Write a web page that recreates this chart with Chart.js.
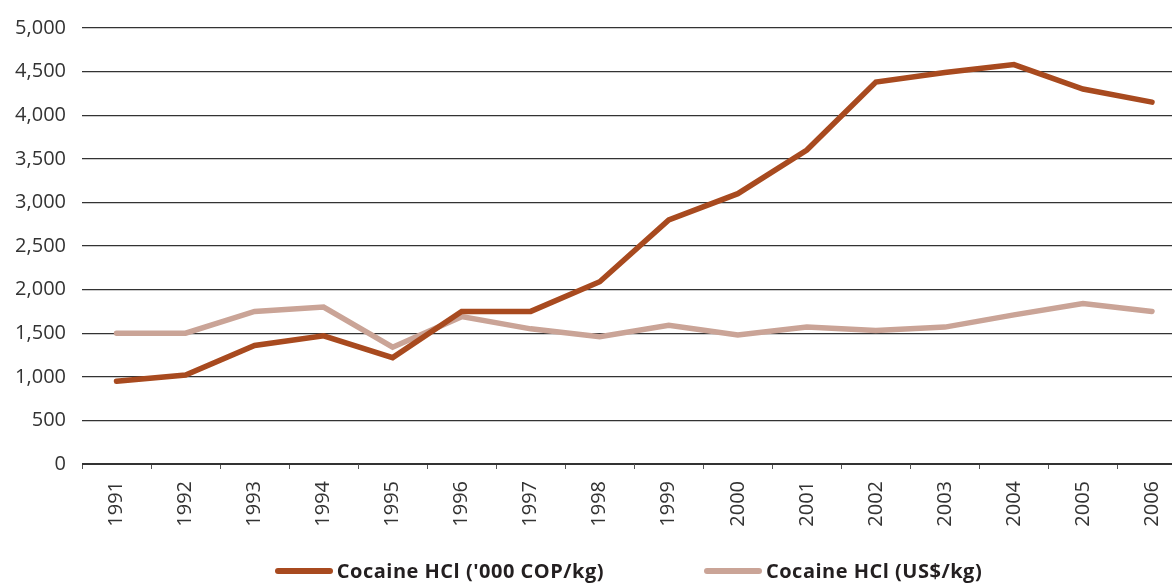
<!DOCTYPE html>
<html>
<head>
<meta charset="utf-8">
<script src="https://cdn.jsdelivr.net/npm/chart.js@4.4.0/dist/chart.umd.min.js"></script>
<style>
	html, body { margin: 0; padding: 0; background: #fff; overflow: hidden; width: 1172px; height: 583px; }
	#wrap { position: absolute; left: 0; top: 0; width: 1188px; height: 583px; }
	#legend {
		position: absolute; left: 0; top: 560px; width: 1257px;
		display: flex; justify-content: center; gap: 100px;
		font-family: 'Open Sans', sans-serif; font-weight: 700; font-size: 20px; letter-spacing: 0.5px; line-height: 22px; color: #231f20;
	}
	.legend-item { display: flex; align-items: center; gap: 4px; white-space: nowrap; }
	.swatch { display: inline-block; width: 58px; height: 6px; border-radius: 3px; }
</style>
</head>
<body>
<div id="wrap"><canvas id="price-chart" width="1188" height="583"></canvas></div>
<div id="legend"></div>
<script>
const years = ['1991', '1992', '1993', '1994', '1995', '1996', '1997', '1998', '1999', '2000', '2001', '2002', '2003', '2004', '2005', '2006'];
const copPrices = [950, 1020, 1360, 1470, 1220, 1750, 1750, 2090, 2800, 3100, 3600, 4380, 4490, 4580, 4300, 4150];
const usdPrices = [1500, 1500, 1750, 1800, 1340, 1690, 1550, 1460, 1590, 1480, 1570, 1530, 1570, 1710, 1840, 1750];
const seriesLabels = ["Cocaine HCl ('000 COP/kg)", 'Cocaine HCl (US$/kg)'];

const colors = {
	cop: '#a84a1f',
	usd: '#caa497',
	grid: '#333333',
	text: '#333333',
};

const tickFont = { family: "'Open Sans', sans-serif", size: 20 };

const priceChart = new Chart(
	document.getElementById('price-chart'),
	{
		type: 'line',
		data: {
			labels: years,
			datasets: [
				{
					label: seriesLabels[0],
					data: copPrices,
					borderColor: colors.cop,
					backgroundColor: colors.cop,
					borderWidth: 5.5,
					borderCapStyle: 'round',
					pointRadius: 0,
					tension: 0,
				},
				{
					label: seriesLabels[1],
					data: usdPrices,
					borderColor: colors.usd,
					backgroundColor: colors.usd,
					borderWidth: 5.5,
					borderCapStyle: 'round',
					pointRadius: 0,
					tension: 0,
				}
			]
		},
		options: {
			responsive: false,
			animation: false,
			layout: {
				padding: { top: 25, right: 0, bottom: 0, left: 0 },
			},
			plugins: {
				legend: { display: false },
				tooltip: { enabled: false },
			},
			scales: {
				x: {
					offset: true,
					grid: {
						offset: true,
						drawOnChartArea: false,
						drawTicks: true,
						tickLength: 5,
						color: '#555',
					},
					border: { display: true, color: colors.grid, width: 1 },
					ticks: {
						minRotation: 90,
						maxRotation: 90,
						padding: 12,
						color: colors.text,
						font: tickFont,
					},
					afterFit: (scale) => { scale.height = 119; },
				},
				y: {
					min: 0,
					max: 5000,
					grid: {
						color: colors.grid,
						lineWidth: 1.2,
						drawTicks: false,
					},
					border: { display: false },
					ticks: {
						stepSize: 500,
						padding: 16,
						color: colors.text,
						font: tickFont,
					},
					afterFit: (scale) => { scale.width = 82; },
				}
			}
		}
	}
);

// legend built in the page so spacing can follow the original
const legendDiv = document.getElementById('legend');
priceChart.data.datasets.forEach((ds) => {
	const item = document.createElement('div');
	item.className = 'legend-item';
	const swatch = document.createElement('span');
	swatch.className = 'swatch';
	swatch.style.background = ds.borderColor;
	const text = document.createElement('span');
	text.textContent = ds.label;
	item.appendChild(swatch);
	item.appendChild(text);
	legendDiv.appendChild(item);
});
</script>
</body>
</html>
